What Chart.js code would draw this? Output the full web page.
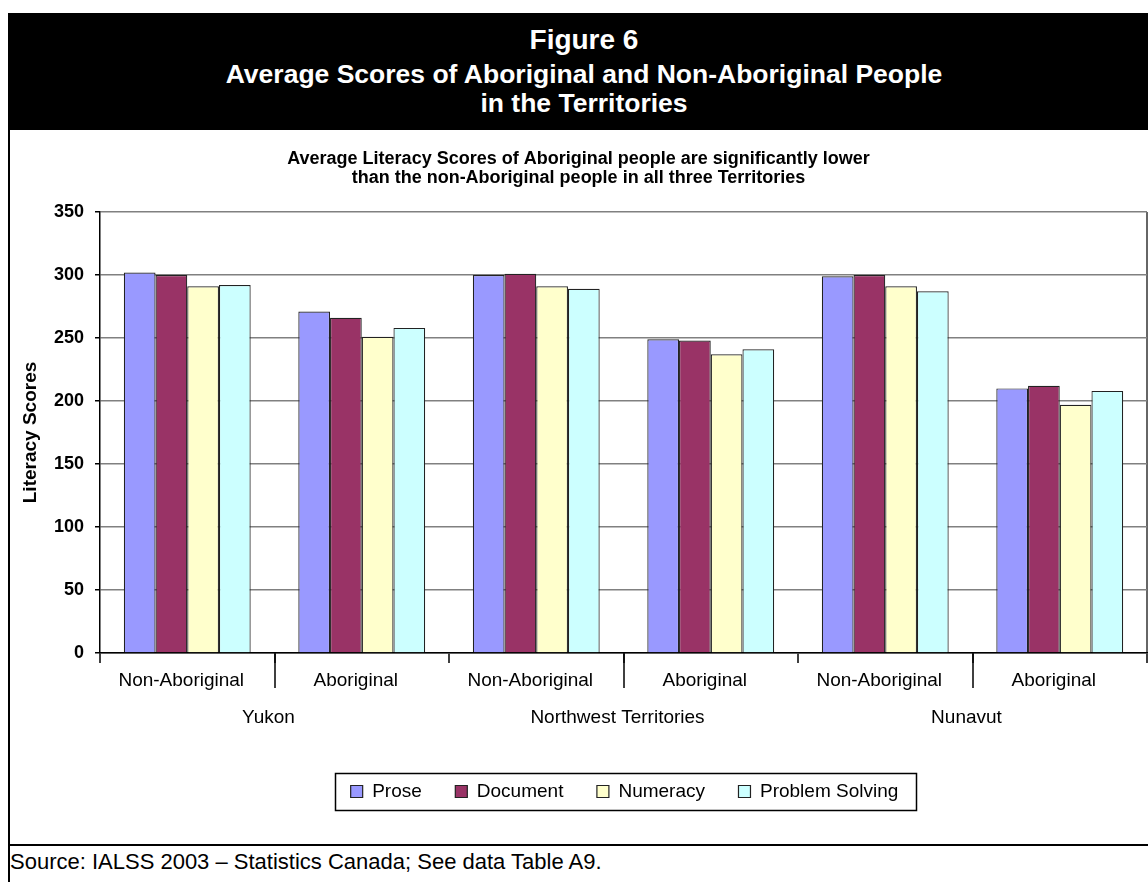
<!DOCTYPE html>
<html>
<head>
<meta charset="utf-8">
<script src="https://cdn.jsdelivr.net/npm/chart.js@4.4.0/dist/chart.umd.min.js"></script>
<style>
  body { margin: 0; background: #fff; font-family: Arial, "Liberation Sans", sans-serif; overflow: hidden; }
  #frame { position: absolute; left: 8px; top: 13px; width: 1152px; height: 900px; border: 2px solid #000; box-sizing: border-box; }
  #head { position: absolute; left: 8px; top: 13px; width: 1152px; height: 117px; background: #000; color: #fff; font-weight: bold; }
  #head div { position: absolute; left: 0; width: 100%; text-align: center; white-space: nowrap; }
  #sep { position: absolute; left: 8px; top: 844px; width: 1152px; border-top: 2px solid #000; }
  #source { position: absolute; left: 10px; top: 850px; font-size: 22px; line-height: 24px; color: #000; white-space: nowrap; }
  #wrap { position: absolute; left: 10px; top: 131px; width: 1138px; height: 713px; }
</style>
</head>
<body>
<div id="frame"></div>
<div id="head">
  <div style="top:12px;font-size:28px;line-height:30px;">Figure 6</div>
  <div style="top:46px;font-size:26.5px;line-height:30px;">Average Scores of Aboriginal and Non-Aboriginal People</div>
  <div style="top:75px;font-size:26.5px;line-height:30px;">in the Territories</div>
</div>
<div id="wrap"><canvas id="chart" width="1138" height="713"></canvas></div>
<div id="sep"></div>
<div id="source">Source: IALSS 2003 – Statistics Canada; See data Table A9.</div>

<script>
const categories = ["Non-Aboriginal", "Aboriginal", "Non-Aboriginal", "Aboriginal", "Non-Aboriginal", "Aboriginal"];
const territories = ["Yukon", "Northwest Territories", "Nunavut"];

const prose      = [302, 271, 300, 249, 299, 210];
const documentSc = [300, 266, 301, 248, 300, 212];
const numeracy   = [291, 251, 291, 237, 291, 197];
const problem    = [292, 258, 289, 241, 287, 208];

const yMin = 0, yMax = 350, yStep = 50;

const subtitle = [
  "Average Literacy Scores of Aboriginal people are significantly lower",
  "than the non-Aboriginal people in all three Territories"
];

Chart.defaults.font.family = 'Arial, "Liberation Sans", sans-serif';
Chart.defaults.color = "#000";

// long separators under the axis, legend moved right, frame round the legend
const axisExtras = {
  id: "axisExtras",
  afterLayout(chart) {
    chart.legend.left += 92;
  },
  afterDraw(chart) {
    const ctx = chart.ctx;
    const area = chart.chartArea;
    const x = chart.scales.x, x2 = chart.scales.x2;
    ctx.save();
    ctx.strokeStyle = "#000";
    ctx.lineWidth = 1.5;
    x2.ticks.forEach((t, i) => {
      const px = Math.round(x2.getPixelForTick(i));
      ctx.beginPath();
      ctx.moveTo(px, area.bottom);
      ctx.lineTo(px, x.bottom - 3);
      ctx.stroke();
    });

    const boxes = chart.legend.legendHitBoxes;
    if (boxes && boxes.length) {
      const left = Math.min(...boxes.map(b => b.left)) - 16;
      const right = Math.max(...boxes.map(b => b.left + b.width)) + 17;
      const cy = boxes[0].top + boxes[0].height / 2;
      ctx.lineWidth = 1.5;
      ctx.strokeRect(Math.round(left) + 0.5, Math.round(cy - 18.5) + 0.5, Math.round(right - left), 37);
    }
    ctx.restore();
  }
};

const barStyle = { borderColor: "#222", borderWidth: 1.2, xAxisID: "x", yAxisID: "y" };

new Chart(document.getElementById("chart"), {
  type: "bar",
  data: {
    labels: categories,
    datasets: [
      { label: "Prose", data: prose, backgroundColor: "#9999FF", ...barStyle },
      { label: "Document", data: documentSc, backgroundColor: "#993366", ...barStyle },
      { label: "Numeracy", data: numeracy, backgroundColor: "#FFFFCC", ...barStyle },
      { label: "Problem Solving", data: problem, backgroundColor: "#CCFFFF", ...barStyle }
    ]
  },
  options: {
    responsive: false,
    animation: false,
    devicePixelRatio: 1,
    layout: { padding: { left: 0, right: 1, top: 0, bottom: 33 } },
    datasets: { bar: { categoryPercentage: 0.727, barPercentage: 1 } },
    plugins: {
      tooltip: { enabled: false },
      title: {
        display: true,
        text: subtitle,
        font: { size: 18, weight: "bold", lineHeight: 1.06 },
        color: "#000",
        padding: { top: 18.5, bottom: 24.3 }
      },
      legend: {
        position: "bottom",
        labels: {
          font: { size: 19 },
          boxWidth: 12,
          boxHeight: 12,
          padding: 33.5,
          color: "#000"
        }
      }
    },
    scales: {
      x: {
        type: "category",
        position: "bottom",
        offset: true,
        grid: {
          offset: true,
          drawOnChartArea: true,
          color: c => (c.type === "scale" ? "#666" : "rgba(0,0,0,0)"),
          lineWidth: 2,
          tickColor: "#000",
          tickWidth: 1.5,
          tickLength: 10
        },
        border: { display: true, color: "#000", width: 1.5 },
        ticks: { font: { size: 19 }, color: "#000", padding: 6, labelOffset: -6, autoSkip: false, maxRotation: 0 },
        afterFit: s => { s.height = 38; }
      },
      x2: {
        type: "category",
        position: "bottom",
        labels: territories,
        offset: true,
        grid: { display: false, drawTicks: false },
        border: { display: false },
        ticks: { font: { size: 19 }, color: "#000", padding: 15, labelOffset: -6, autoSkip: false, maxRotation: 0 },
        afterFit: s => { s.height = 57.5; }
      },
      y: {
        min: yMin,
        max: yMax,
        ticks: { stepSize: yStep, font: { size: 18, weight: "bold" }, color: "#000", padding: 11 },
        grid: { color: "#808080", lineWidth: 1.5, tickColor: "#000", tickLength: 5 },
        border: { display: true, color: "#000", width: 1.5 },
        title: {
          display: true,
          text: "Literacy Scores",
          font: { size: 19, weight: "bold" },
          color: "#000",
          padding: { top: 9, bottom: 0 }
        },
        afterFit: s => { s.width = 90; }
      }
    }
  },
  plugins: [axisExtras]
});
</script>
</body>
</html>
